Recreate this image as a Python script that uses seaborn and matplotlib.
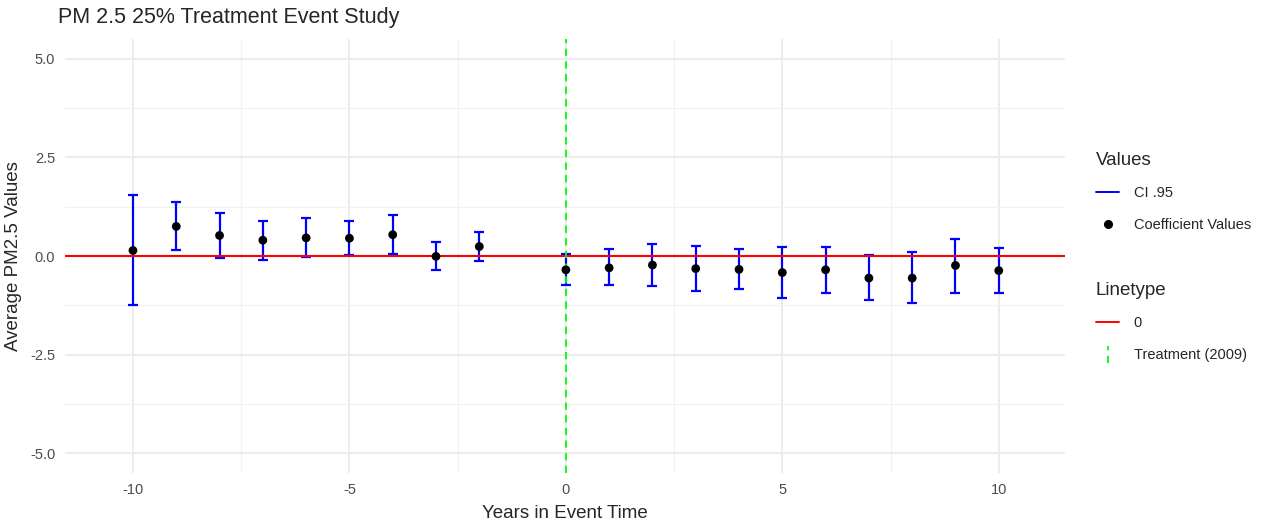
import numpy as np
import pandas as pd
import seaborn as sns
import matplotlib.pyplot as plt
from matplotlib.lines import Line2D
from matplotlib.legend_handler import HandlerLine2D

# event study estimates (year -1 is the omitted reference period)
years = [-10, -9, -8, -7, -6, -5, -4, -3, -2, 0, 1, 2, 3, 4, 5, 6, 7, 8, 9, 10]
coef = [0.14, 0.75, 0.52, 0.40, 0.46, 0.45, 0.54, -0.01, 0.24,
        -0.35, -0.30, -0.23, -0.32, -0.34, -0.42, -0.35, -0.56, -0.56, -0.24, -0.37]
ci_low = [-1.25, 0.14, -0.05, -0.09, -0.03, 0.03, 0.04, -0.36, -0.13,
          -0.73, -0.74, -0.76, -0.88, -0.84, -1.07, -0.93, -1.11, -1.19, -0.93, -0.94]
ci_high = [1.55, 1.37, 1.10, 0.89, 0.96, 0.88, 1.04, 0.36, 0.61,
           0.06, 0.17, 0.30, 0.26, 0.17, 0.23, 0.23, 0.02, 0.10, 0.44, 0.21]
x_ticks = [-10, -5, 0, 5, 10]
y_ticks = [-5.0, -2.5, 0.0, 2.5, 5.0]

df = pd.DataFrame({"year": years, "coef": coef, "lo": ci_low, "hi": ci_high})

sns.set_style("whitegrid")
plt.rcParams['font.family'] = ['Liberation Sans', 'DejaVu Sans']

fig = plt.figure(figsize=(12.65, 5.25), dpi=100)
ax = fig.add_axes([65 / 1265, 1 - 473 / 525, 1000 / 1265, 434 / 525])

yerr = np.vstack([df["coef"] - df["lo"], df["hi"] - df["coef"]])
ax.errorbar(df["year"], df["coef"], yerr=yerr, fmt="none", ecolor="blue",
            elinewidth=1.6, capsize=3.5, capthick=1.6, zorder=3)
ax.axhline(0, color="red", lw=1.5, zorder=4)
ax.axvline(0, color="#00FF00", lw=1.3, ls=(0, (4, 3)), zorder=4)
sns.scatterplot(data=df, x="year", y="coef", color="black", s=40,
                edgecolor="none", zorder=5, ax=ax)

ax.set_xlim(-11.57, 11.53)
ax.set_ylim(-5.5, 5.5)
ax.set_xticks(x_ticks)
ax.set_xticklabels([str(t) for t in x_ticks])
ax.set_yticks(y_ticks)
ax.set_yticklabels([f"{t:.1f}" for t in y_ticks])
ax.set_xticks([-7.5, -2.5, 2.5, 7.5], minor=True)
ax.set_yticks([-3.75, -1.25, 1.25, 3.75], minor=True)
ax.grid(which="major", color="#EBEBEB", lw=1.3)
ax.grid(which="minor", color="#F2F2F2", lw=0.9)
ax.tick_params(which="both", length=0, labelsize=10.5, labelcolor="#4D4D4D", pad=7)
for s in ax.spines.values():
    s.set_visible(False)

ax.set_xlabel("Years in Event Time", fontsize=13.5, labelpad=6)
ax.set_ylabel("Average PM2.5 Values", fontsize=13.5, labelpad=6)
fig.text(58 / 1265, 1 - 17 / 525, "PM 2.5 25% Treatment Event Study",
         fontsize=15.5, va="center", ha="left")


class VLineHandler(HandlerLine2D):
    def create_artists(self, legend, orig_handle, xdescent, ydescent,
                       width, height, fontsize, trans):
        cx = width / 2 - xdescent
        ln = Line2D([cx, cx], [-ydescent - 0.4 * height, height * 1.3 - ydescent])
        self.update_prop(ln, orig_handle, legend)
        ln.set_transform(trans)
        return [ln]


h_ci = Line2D([], [], color="blue", lw=1.4)
h_pt = Line2D([], [], color="black", marker="o", ls="none", markersize=5.5)
h_zero = Line2D([], [], color="red", lw=1.4)
h_treat = Line2D([], [], color="#00FF00", lw=1.3, ls=(0, (4, 3)))

leg_kw = dict(frameon=False, fontsize=10.5, title_fontsize=13.5, alignment="left",
              handlelength=1.6, handletextpad=1.0, labelspacing=1.2,
              bbox_transform=fig.transFigure, loc="upper left", borderaxespad=0)
leg1 = ax.legend([h_ci, h_pt], ["CI .95", "Coefficient Values"], title="Values",
                 bbox_to_anchor=(1090 / 1265, 1 - 146 / 525), **leg_kw)
ax.add_artist(leg1)
leg2 = ax.legend([h_zero, h_treat], ["0", "Treatment (2009)"], title="Linetype",
                 bbox_to_anchor=(1090 / 1265, 1 - 276 / 525),
                 handler_map={h_treat: VLineHandler()}, **leg_kw)

fig.savefig("out.png", dpi=100)
